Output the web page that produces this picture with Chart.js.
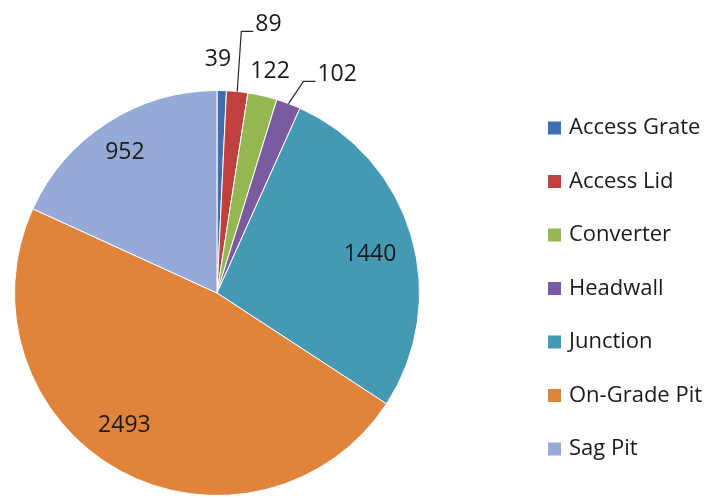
<!DOCTYPE html>
<html>
<head>
<meta charset="utf-8">
<script src="https://cdn.jsdelivr.net/npm/chart.js@4/dist/chart.umd.min.js"></script>
<style>
  html, body { margin: 0; padding: 0; background: #ffffff; }
  #wrap { width: 710px; height: 498px; position: relative; }
</style>
</head>
<body>
<div id="wrap"><canvas id="c" width="710" height="498"></canvas></div>
<script>
// Pit / structure types and their counts
const categories = ['Access Grate', 'Access Lid', 'Converter', 'Headwall', 'Junction', 'On-Grade Pit', 'Sag Pit'];
const counts = [39, 89, 122, 102, 1440, 2493, 952];
const sliceColors = ['#3F6FB2', '#C0403E', '#93B851', '#7A5BA1', '#4699B5', '#E0843C', '#95AAD6'];

// How each value label sits: inside the slice (fraction of the radius)
// or outside it (extra distance beyond the rim, optional leader line);
// shift nudges the label around the pie, in degrees
const labelPlacement = [
  { mode: 'out', extra: 31, shift: -1.1, leader: false },
  { mode: 'out', extra: 71, shift: 5.1,  leader: true  },
  { mode: 'out', extra: 25, shift: 0.5,  leader: false },
  { mode: 'out', extra: 47, shift: 8.1,  leader: true  },
  { mode: 'in',  frac: 0.78, shift: 2.0 },
  { mode: 'in',  frac: 0.80, shift: 6.0 },
  { mode: 'in',  frac: 0.83, shift: -0.5 }
];

const FONT = '"Open Sans", "Liberation Sans", sans-serif';

const valueLabels = {
  id: 'valueLabels',
  afterDatasetsDraw(chart) {
    const ctx = chart.ctx;
    const meta = chart.getDatasetMeta(0);
    ctx.save();
    ctx.font = '23px ' + FONT;
    ctx.fillStyle = '#1a1a1a';
    ctx.textAlign = 'center';
    ctx.textBaseline = 'middle';
    meta.data.forEach((arc, i) => {
      const p = arc.getProps(['x', 'y', 'startAngle', 'endAngle', 'outerRadius'], true);
      const mid = (p.startAngle + p.endAngle) / 2;
      const place = labelPlacement[i];
      const ang = mid + place.shift * Math.PI / 180;
      const text = String(counts[i]);
      if (place.mode === 'in') {
        const d = p.outerRadius * place.frac;
        ctx.fillText(text, p.x + d * Math.cos(ang), p.y + d * Math.sin(ang));
        return;
      }
      const d = p.outerRadius + place.extra;
      const cx = p.x + d * Math.cos(ang);
      const cy = p.y + d * Math.sin(ang);
      ctx.fillText(text, cx, cy);
      if (place.leader) {
        const w = ctx.measureText(text).width;
        const left = cx - w / 2;
        const ex = p.x + p.outerRadius * Math.cos(mid);
        const ey = p.y + p.outerRadius * Math.sin(mid);
        ctx.beginPath();
        ctx.strokeStyle = '#2a2a2a';
        ctx.lineWidth = 1.2;
        ctx.moveTo(ex, ey);
        ctx.lineTo(left - 14, cy + 7);
        ctx.lineTo(left - 2, cy + 7);
        ctx.stroke();
      }
    });
    ctx.restore();
  }
};

// Legend drawn as a vertical list to the right of the pie
const sideLegend = {
  id: 'sideLegend',
  afterDraw(chart) {
    const ctx = chart.ctx;
    const boxX = 548, textX = 569, firstY = 128, step = 53.5, box = 13;
    ctx.save();
    ctx.font = '22px ' + FONT;
    ctx.textAlign = 'left';
    ctx.textBaseline = 'middle';
    categories.forEach((name, i) => {
      const y = firstY + i * step;
      ctx.fillStyle = sliceColors[i];
      ctx.fillRect(boxX, y - box / 2, box, box);
      ctx.fillStyle = '#1a1a1a';
      ctx.fillText(name, textX, y);
    });
    ctx.restore();
  }
};

new Chart(document.getElementById('c'), {
  type: 'pie',
  data: {
    labels: categories,
    datasets: [{
      data: counts,
      backgroundColor: sliceColors,
      borderColor: '#ffffff',
      borderWidth: 1
    }]
  },
  options: {
    responsive: false,
    animation: false,
    devicePixelRatio: 1,
    layout: { padding: { left: 14, right: 290, top: 90, bottom: 2 } },
    plugins: {
      legend: { display: false },
      tooltip: { enabled: false }
    }
  },
  plugins: [valueLabels, sideLegend]
});
</script>
</body>
</html>
